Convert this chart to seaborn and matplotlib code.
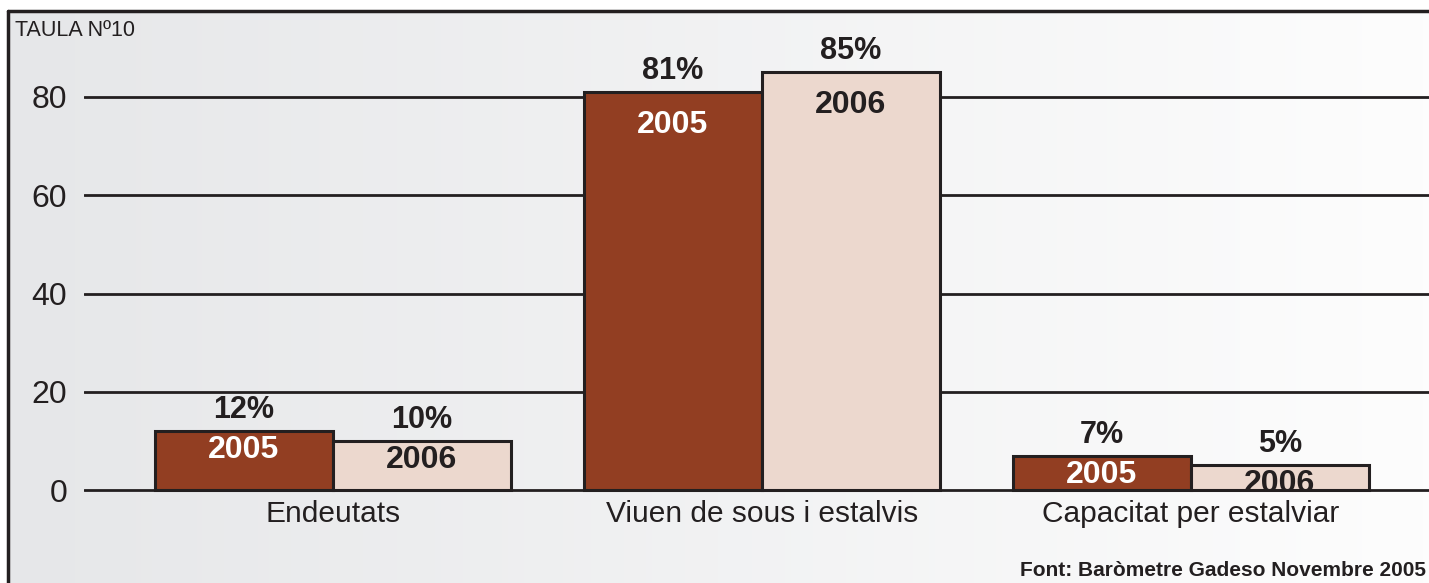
import numpy as np
import pandas as pd
import matplotlib
matplotlib.use("Agg")
import matplotlib.pyplot as plt
import seaborn as sns
from matplotlib.lines import Line2D
from matplotlib.colors import LinearSegmentedColormap

# ---- data ----
categories = ["Endeutats", "Viuen de sous i estalvis", "Capacitat per estalviar"]
years = ["2005", "2006"]
values_2005 = [12, 81, 7]
values_2006 = [10, 85, 5]
yticks = [0, 20, 40, 60, 80]
title_text = "TAULA Nº10"
source_text = "Font: Baròmetre Gadeso Novembre 2005"

df = pd.DataFrame({
    "cat": categories * 2,
    "year": [years[0]] * 3 + [years[1]] * 3,
    "val": values_2005 + values_2006,
})

sns.set_style("white")
plt.rcParams["font.family"] = ["Liberation Sans", "DejaVu Sans"]

W, H = 1429, 583
fig = plt.figure(figsize=(W / 100, H / 100), dpi=100)
fig.patch.set_facecolor("white")

dark = "#231f20"
c2005 = "#923e22"
c2006 = "#ecd8ce"

# background gradient inside frame
fx, fy = 8 / W, 11 / H
bg = fig.add_axes([fx, 0, 1 - fx, 1 - fy], zorder=0)
grad = np.linspace(0, 1, 256)[None, :]
cmap = LinearSegmentedColormap.from_list("g", ["#e6e7e9", "#fdfdfd"])
bg.imshow(grad, aspect="auto", cmap=cmap, extent=[0, 1, 0, 1])
bg.set_axis_off()

# main axes: y=0 at px 490, y=80 at px 97
ppu = (490 - 97) / 80.0
ytop = (490 - 11) / ppu
ybot = -(H - 490) / ppu
ax = fig.add_axes([84 / W, 0, 1 - 84 / W, (H - 11) / H], zorder=1)
ax.set_facecolor("none")

for t in yticks:
    ax.axhline(t, color=dark, lw=2.0, zorder=0)

sns.barplot(data=df, x="cat", y="val", hue="year", hue_order=years,
            palette=[c2005, c2006], width=0.83, dodge=True,
            edgecolor=dark, linewidth=2.2, legend=False, ax=ax, zorder=2,
            saturation=1)

ax.set_ylim(ybot, ytop)
ax.set_xlim(-0.58, 2.555)
ax.set_yticks(yticks)
ax.set_yticklabels([str(t) for t in yticks], fontsize=23, color=dark)
ax.tick_params(axis="y", length=0, pad=12)
ax.tick_params(axis="x", length=0, bottom=False, labelbottom=False)
ax.set_xlabel("")
ax.set_ylabel("")
for s in ax.spines.values():
    s.set_visible(False)

# category labels below baseline
for i, c in enumerate(categories):
    ax.annotate(c, xy=(i, 0), xytext=(0, -10), textcoords="offset pixels",
                ha="center", va="top", fontsize=21.5, color=dark)

# bar labels
bars_sorted = sorted(ax.patches, key=lambda p: p.get_x())
vals_in_order = []
for i in range(len(categories)):
    vals_in_order += [values_2005[i], values_2006[i]]
for k, (p, v) in enumerate(zip(bars_sorted, vals_in_order)):
    cx = p.get_x() + p.get_width() / 2
    top = p.get_height()
    ax.annotate(f"{v}%", xy=(cx, top), xytext=(0, 6), textcoords="offset pixels",
                ha="center", va="bottom", fontsize=22, fontweight="bold", color=dark)
    yr = years[k % 2]
    off = -33 if v > 50 else -19
    ax.annotate(yr, xy=(cx, top), xytext=(0, off), textcoords="offset pixels",
                ha="center", va="center", fontsize=23, fontweight="bold",
                color="white" if yr == "2005" else dark)

# frame lines
fig.add_artist(Line2D([fx, fx], [0, 1 - fy], transform=fig.transFigure,
                      color=dark, lw=2.5, zorder=5))
fig.add_artist(Line2D([fx, 1], [1 - fy, 1 - fy], transform=fig.transFigure,
                      color=dark, lw=2.5, zorder=5))

fig.text(15 / W, 1 - 31 / H, title_text, fontsize=15.5, color=dark,
         ha="left", va="center", zorder=6)
fig.text(1 - 3 / W, 12 / H, source_text, fontsize=15, fontweight="bold",
         color=dark, ha="right", va="center", zorder=6)

fig.savefig("out.png", dpi=100, facecolor="white")
